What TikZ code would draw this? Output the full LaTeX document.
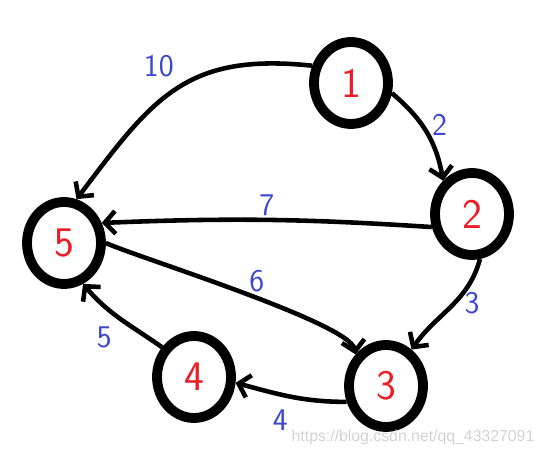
\documentclass[tikz,border=0pt]{standalone}
\usepackage{fontspec}
\usepackage{tikz}
\usetikzlibrary{shapes.geometric,arrows.meta}
\newfontfamily\wmfont{Liberation Sans}
\definecolor{numred}{RGB}{234,30,38}
\definecolor{wtblue}{RGB}{60,72,205}
\tikzstyle{vertex} = [draw, ellipse, line width=5.6pt, minimum width=1.48cm, minimum height=1.64cm, inner sep=0pt, text=numred, font=\sffamily\fontsize{24}{24}\selectfont]
\tikzstyle{line} = [draw, line width=2.6pt, ->]
\tikzstyle{weight} = [text=wtblue, font=\sffamily\fontsize{18}{18}\selectfont]

\begin{document}
\begin{tikzpicture}[x=0.02cm,y=0.02cm,>={Straight Barb[length=6pt,width=13pt]}]
      \useasboundingbox (0,0) rectangle (543,455);

      % vertices
      \node[vertex] (n1) at (351,372) {1};
      \node[vertex] (n2) at (472,241) {2};
      \node[vertex] (n3) at (386,69) {3};
      \node[vertex] (n4) at (194,78) {4};
      \node[vertex] (n5) at (64,212) {5};

      % weighted edges
      \path[line] (n1.156) to[out=174,in=53,looseness=1.2] node[weight,pos=0.47,above left=0pt] {10} (n5.74);
      \path[line] (n1.-14) to[out=-40,in=100] node[weight,pos=0.42,right=1pt] {2} (n2.131);
      \path[line] (n2.198) to[bend right=3] node[weight,pos=0.5,above=-2pt] {7} (n5.28);
      \path[line] (n2.-80) to[out=-105,in=55] node[weight,pos=0.45,right=1pt] {3} (n3.55);
      \path[line] (n5.east) to[out=-25,in=100,looseness=0.3] node[weight,pos=0.55,above=-1pt] {6} (n3.134);
      \path[line] (n3.202) to[out=180,in=-15] node[weight,pos=0.6,below=4pt] {4} (n4.-8);
      \path[line] (n4.137) to[out=145,in=-50] node[weight,pos=0.5,below left=0pt] {5} (n5.-65);

      % watermark
      \node[text=gray!35, font=\wmfont\fontsize{9}{9}\selectfont] (mark) at (413,18) {https://blog.csdn.net/qq\_43327091};
\end{tikzpicture}
\end{document}
